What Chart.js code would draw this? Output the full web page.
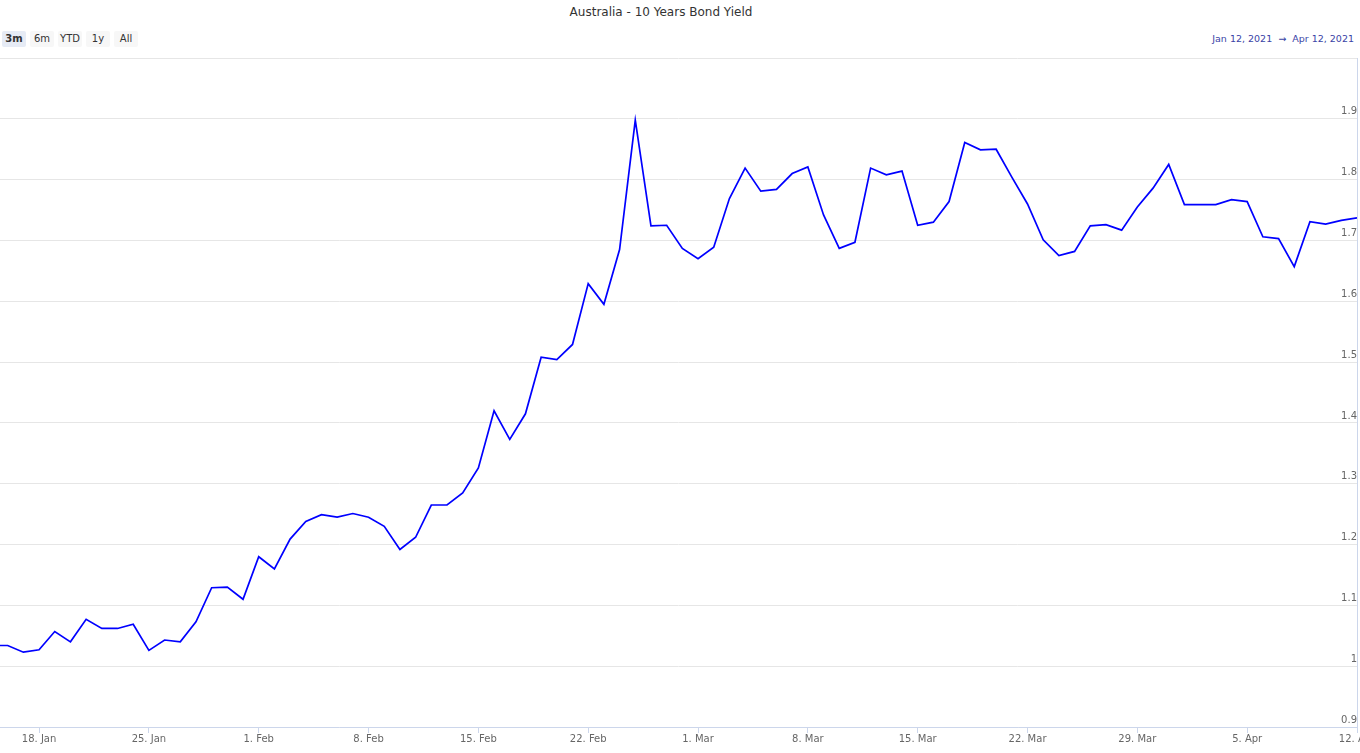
<!DOCTYPE html>
<html>
<head>
<meta charset="utf-8">
<script src="https://cdn.jsdelivr.net/npm/chart.js@4.4.1/dist/chart.umd.min.js"></script>
<style>
  html, body { margin: 0; padding: 0; background: #fff; overflow: hidden; }
  body { width: 1360px; height: 753px; position: relative; font-family: "DejaVu Sans", "Lucida Grande", Arial, sans-serif; }
  #title { position: absolute; top: 5px; left: 0; width: 1322px; text-align: center; font-size: 12px; color: #333; }
  .btns { position: absolute; top: 31px; left: 2px; }
  .btns span { float: left; width: 24px; height: 16px; line-height: 16px; text-align: center; margin-right: 4px; background: #f7f7f7; color: #333; font-size: 10px; border-radius: 2px; }
  .btns span.on { background: #e6ebf5; font-weight: bold; }
  #range { position: absolute; top: 33px; right: 6px; font-size: 9.5px; color: #3a43a6; }
  #wrap { position: absolute; left: 0; top: 0; width: 1400px; height: 753px; }
</style>
</head>
<body>
<div id="title">Australia - 10 Years Bond Yield</div>
<div class="btns"><span class="on">3m</span><span>6m</span><span>YTD</span><span>1y</span><span>All</span></div>
<div id="range">Jan 12, 2021 &nbsp;→&nbsp; Apr 12, 2021</div>
<div id="wrap"><canvas id="chart" width="1400" height="753"></canvas></div>
<script>
const dates = [
  '2021-01-15', '2021-01-16', '2021-01-17', '2021-01-18', '2021-01-19', '2021-01-20', '2021-01-21',
  '2021-01-22', '2021-01-23', '2021-01-24', '2021-01-25', '2021-01-26', '2021-01-27', '2021-01-28',
  '2021-01-29', '2021-01-30', '2021-01-31', '2021-02-01', '2021-02-02', '2021-02-03', '2021-02-04',
  '2021-02-05', '2021-02-06', '2021-02-07', '2021-02-08', '2021-02-09', '2021-02-10', '2021-02-11',
  '2021-02-12', '2021-02-13', '2021-02-14', '2021-02-15', '2021-02-16', '2021-02-17', '2021-02-18',
  '2021-02-19', '2021-02-20', '2021-02-21', '2021-02-22', '2021-02-23', '2021-02-24', '2021-02-25',
  '2021-02-26', '2021-02-27', '2021-02-28', '2021-03-01', '2021-03-02', '2021-03-03', '2021-03-04',
  '2021-03-05', '2021-03-06', '2021-03-07', '2021-03-08', '2021-03-09', '2021-03-10', '2021-03-11',
  '2021-03-12', '2021-03-13', '2021-03-14', '2021-03-15', '2021-03-16', '2021-03-17', '2021-03-18',
  '2021-03-19', '2021-03-20', '2021-03-21', '2021-03-22', '2021-03-23', '2021-03-24', '2021-03-25',
  '2021-03-26', '2021-03-27', '2021-03-28', '2021-03-29', '2021-03-30', '2021-03-31', '2021-04-01',
  '2021-04-02', '2021-04-03', '2021-04-04', '2021-04-05', '2021-04-06', '2021-04-07', '2021-04-08',
  '2021-04-09', '2021-04-10', '2021-04-11', '2021-04-12'
];

const yields = [
  1.034, 1.034, 1.023, 1.027, 1.057, 1.040, 1.077,
  1.062, 1.062, 1.069, 1.026, 1.043, 1.040, 1.073,
  1.129, 1.130, 1.110, 1.180, 1.160, 1.209, 1.238,
  1.249, 1.245, 1.251, 1.245, 1.230, 1.192, 1.212,
  1.265, 1.265, 1.285, 1.326, 1.420, 1.373, 1.415,
  1.508, 1.504, 1.529, 1.629, 1.595, 1.685, 1.898,
  1.724, 1.725, 1.687, 1.670, 1.689, 1.769, 1.819,
  1.781, 1.784, 1.810, 1.821, 1.742, 1.687, 1.697,
  1.819, 1.808, 1.814, 1.725, 1.730, 1.764, 1.861,
  1.849, 1.850, 1.804, 1.760, 1.701, 1.675, 1.682,
  1.724, 1.726, 1.717, 1.755, 1.786, 1.825, 1.759,
  1.759, 1.759, 1.767, 1.764, 1.706, 1.703, 1.657,
  1.731, 1.727, 1.733, 1.737
];

const tickDates = ['2021-01-18', '2021-01-25', '2021-02-01', '2021-02-08', '2021-02-15', '2021-02-22',
  '2021-03-01', '2021-03-08', '2021-03-15', '2021-03-22', '2021-03-29', '2021-04-05', '2021-04-12'];
const tickLabels = ['18. Jan', '25. Jan', '1. Feb', '8. Feb', '15. Feb', '22. Feb',
  '1. Mar', '8. Mar', '15. Mar', '22. Mar', '29. Mar', '5. Apr', '12. Apr'];

const yTicks = [0.9, 1, 1.1, 1.2, 1.3, 1.4, 1.5, 1.6, 1.7, 1.8, 1.9, 2];

// day of year, so a linear axis can stand in for a time axis
function dayNum(s) {
  const [y, m, d] = s.split('-').map(Number);
  return (Date.UTC(y, m - 1, d) - Date.UTC(2021, 0, 0)) / 86400000;
}

const points = dates.map((d, i) => ({x: dayNum(d), y: yields[i]}));
const tickDays = tickDates.map(dayNum);

new Chart(document.getElementById('chart'), {
  type: 'line',
  data: {
    datasets: [{
      data: points,
      borderColor: '#0000ff',
      borderWidth: 1.7,
      pointRadius: 0,
      tension: 0,
      fill: false
    }]
  },
  options: {
    responsive: false,
    animation: false,
    layout: {padding: {left: 0, top: 58, right: 43, bottom: 8}},
    plugins: {legend: {display: false}, tooltip: {enabled: false}},
    scales: {
      x: {
        type: 'linear',
        min: 15.51,
        max: 102,
        afterBuildTicks: s => { s.ticks = tickDays.map(v => ({value: v})); },
        grid: {drawOnChartArea: false, drawTicks: true, tickLength: 6, color: '#ccd6eb'},
        border: {color: '#ccd6eb'},
        ticks: {
          autoSkip: false,
          maxRotation: 0,
          padding: 0,
          color: '#666',
          font: {size: 10, family: '"DejaVu Sans", Arial, sans-serif'},
          callback: v => tickLabels[tickDays.indexOf(v)] || ''
        }
      },
      y: {
        position: 'right',
        min: 0.9,
        max: 2,
        afterBuildTicks: s => { s.ticks = yTicks.map(v => ({value: v})); },
        grid: {drawTicks: false, color: '#e6e6e6'},
        border: {color: '#ccd6eb'},
        ticks: {
          mirror: true,
          padding: 0,
          labelOffset: -7,
          color: '#666',
          font: {size: 10, family: '"DejaVu Sans", Arial, sans-serif'},
          callback: v => v === 2 ? '' : String(Math.round(v * 10) / 10)
        }
      }
    }
  }
});
</script>
</body>
</html>
